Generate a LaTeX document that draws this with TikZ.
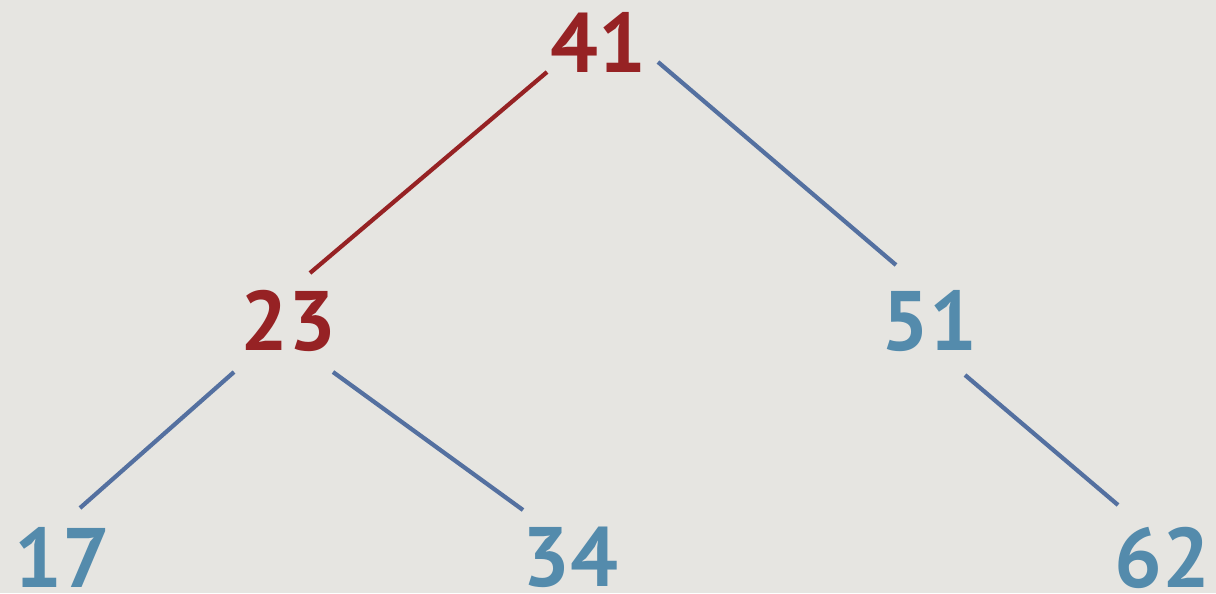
\documentclass[tikz,border=0pt]{standalone}
\usepackage{fontspec}
\setmainfont{PT Sans}
\usepackage{tikz}
\usetikzlibrary{positioning}
\usetikzlibrary{calc}
\definecolor{bgcolor}{RGB}{230,229,225}
\definecolor{pathcolor}{RGB}{150,34,36}
\definecolor{keycolor}{RGB}{84,139,172}
\definecolor{edgecolor}{RGB}{84,112,160}

\begin{document}
\begin{tikzpicture}[
    x=0.01cm, y=-0.01cm,
    key/.style={inner sep=0pt, text depth=0pt, font=\fontsize{24}{28}\selectfont\bfseries, text=keycolor},
    pkey/.style={key, text=pathcolor},
    edge/.style={draw=edgecolor, line width=1.2pt},
    pedge/.style={edge, draw=pathcolor}
]
\fill[bgcolor] (0,0) rectangle (1216,593);
\useasboundingbox (0,0) rectangle (1216,593);

\node[pkey] (n41) at (598,42) {41};
\node[pkey] (n23) at (288,320) {23};
\node[key] (n51) at (929,320) {51};
\node[key] (n17) at (62,557) {17};
\node[key] (n34) at (570,557) {34};
\node[key] (n62) at (1162,557) {62};

\draw[pedge] ([shift={(-51,30)}]n41.center) -- ([shift={(22,-47)}]n23.center);
\draw[edge] ([shift={(60,20)}]n41.center) -- ([shift={(-33,-55)}]n51.center);
\draw[edge] ([shift={(-54,52)}]n23.center) -- ([shift={(18,-49)}]n17.center);
\draw[edge] ([shift={(45,52)}]n23.center) -- ([shift={(-47,-47)}]n34.center);
\draw[edge] ([shift={(36,55)}]n51.center) -- ([shift={(-44,-52)}]n62.center);

\end{tikzpicture}
\end{document}
